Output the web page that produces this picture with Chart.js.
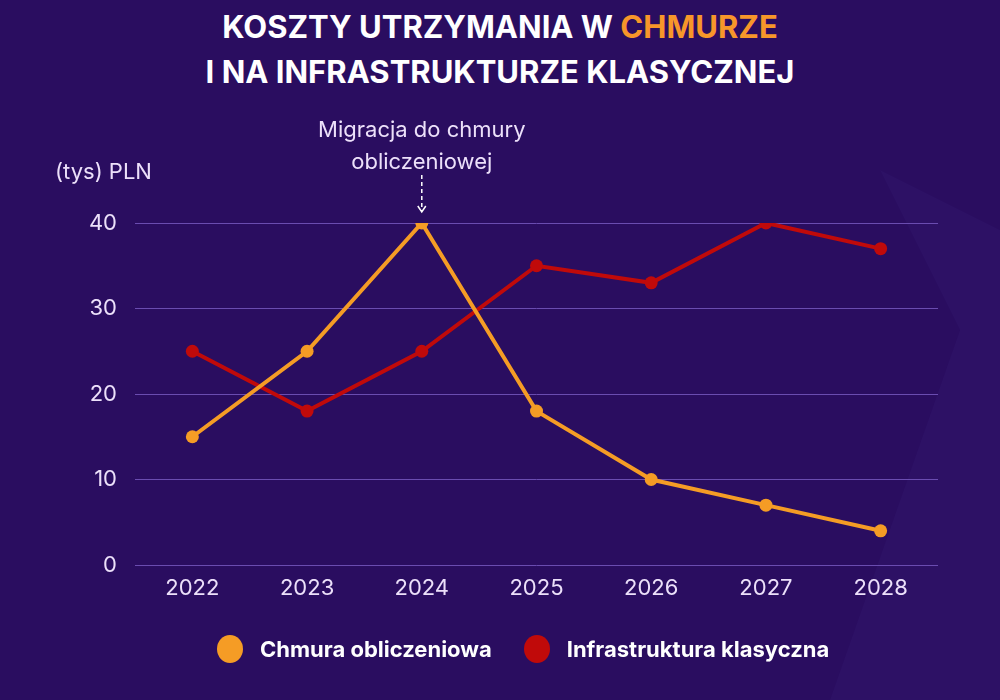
<!DOCTYPE html>
<html>
<head>
<meta charset="utf-8">
<script src="https://cdn.jsdelivr.net/npm/chart.js@4"></script>
<style>
  html,body{margin:0;padding:0;}
  body{width:1000px;height:700px;background:#2a0d60;overflow:hidden;position:relative;font-family:Inter,"DejaVu Sans",sans-serif;}
  #shade{position:absolute;left:0;top:0;width:1000px;height:700px;background:#2d1165;
    clip-path:polygon(880px 170px,1000px 230px,1000px 700px,830px 700px,960px 330px);}
  h1{position:absolute;left:0;top:0;width:1000px;margin:0;text-align:center;color:#fff;
    font-size:31px;font-weight:700;line-height:45px;padding-top:4px;}
  h1 .hl{color:#f7962a;}
  #wrap{position:absolute;left:0;top:0;width:1000px;height:700px;}
  #legend{position:absolute;left:217px;top:635px;height:28px;display:flex;align-items:center;
    color:#fff;font-size:22px;font-weight:700;}
  #legend .dot{width:26px;height:28px;border-radius:50%;display:inline-block;margin-right:17px;}
  #legend .item{display:flex;align-items:center;margin-right:32px;}
</style>
</head>
<body>
<div id="shade"></div>
<h1>KOSZTY UTRZYMANIA W <span class="hl">CHMURZE</span><br>I NA INFRASTRUKTURZE KLASYCZNEJ</h1>
<div id="wrap"><canvas id="chart" width="1000" height="700"></canvas></div>
<div id="legend"></div>
<script>
// ==========================
// DATA
// ==========================
const years = ["2022","2023","2024","2025","2026","2027","2028"];
const cloudCosts = [15, 25, 40, 18, 10, 7, 4];
const classicCosts = [25, 18, 25, 35, 33, 40, 37];
const yTicks = [0, 10, 20, 30, 40];
const unitLabel = "(tys) PLN";
const noteLines = ["Migracja do chmury", "obliczeniowej"];
const noteIndex = 2;

const ORANGE = "#f59c25";
const RED = "#c00a0a";
const TEXT = "#ece0fa";

// ==========================
// EXTRA TEXT (unit + annotation)
// ==========================
const extras = {
  id: "extras",
  afterDraw(chart){
    const ctx = chart.ctx;
    const xs = chart.scales.x, ys = chart.scales.y;
    ctx.save();
    ctx.fillStyle = TEXT;
    ctx.font = "22px Inter";
    ctx.textBaseline = "middle";
    ctx.textAlign = "left";
    ctx.fillText(unitLabel, 55, 172);

    // annotation
    const px = xs.getPixelForValue(noteIndex);
    const py = ys.getPixelForValue(cloudCosts[noteIndex]);
    ctx.textAlign = "center";
    ctx.fillText(noteLines[0], px, 130);
    ctx.fillText(noteLines[1], px, 162);

    ctx.strokeStyle = "#ffffff";
    ctx.lineWidth = 1.5;
    ctx.setLineDash([4,3]);
    ctx.beginPath();
    ctx.moveTo(px, 175);
    ctx.lineTo(px, py - 12);
    ctx.stroke();
    ctx.setLineDash([]);
    ctx.beginPath();
    ctx.moveTo(px - 4, py - 17);
    ctx.lineTo(px, py - 11);
    ctx.lineTo(px + 4, py - 17);
    ctx.stroke();
    ctx.restore();
  }
};

Chart.defaults.font.family = "Inter";
Chart.defaults.color = TEXT;

const chart = new Chart(document.getElementById("chart"), {
  type: "line",
  data: {
    labels: years,
    datasets: [
      {label:"Chmura obliczeniowa", data:cloudCosts, borderColor:ORANGE, backgroundColor:ORANGE,
       borderWidth:4, pointRadius:6.5, pointBorderWidth:0, pointHoverRadius:6.5, tension:0},
      {label:"Infrastruktura klasyczna", data:classicCosts, borderColor:RED, backgroundColor:RED,
       borderWidth:4, pointRadius:6.5, pointBorderWidth:0, pointHoverRadius:6.5, tension:0}
    ]
  },
  options: {
    responsive: false,
    animation: false,
    layout: {padding:{top:223, right:62, left:0, bottom:91}},
    plugins: {
      tooltip: {enabled:false},
      legend: {display:false}
    },
    scales: {
      x: {
        offset: true,
        grid: {display:false},
        border: {display:false},
        ticks: {font:{size:22}, color:TEXT, padding:2},
        afterFit(s){ s.height = 44; }
      },
      y: {
        min: 0, max: 40,
        afterBuildTicks(s){ s.ticks = yTicks.map(v => ({value:v})); },
        grid: {color:"#6a4cb0", lineWidth:1, drawTicks:false},
        border: {display:false},
        ticks: {font:{size:22}, color:TEXT, padding:18},
        afterFit(s){ s.width = 135; }
      }
    }
  },
  plugins: [extras]
});

// ==========================
// LEGEND (html)
// ==========================
const legend = document.getElementById("legend");
chart.data.datasets.forEach(d => {
  const item = document.createElement("div");
  item.className = "item";
  item.innerHTML = `<span class="dot" style="background:${d.borderColor}"></span>${d.label}`;
  legend.appendChild(item);
});
</script>
</body>
</html>
